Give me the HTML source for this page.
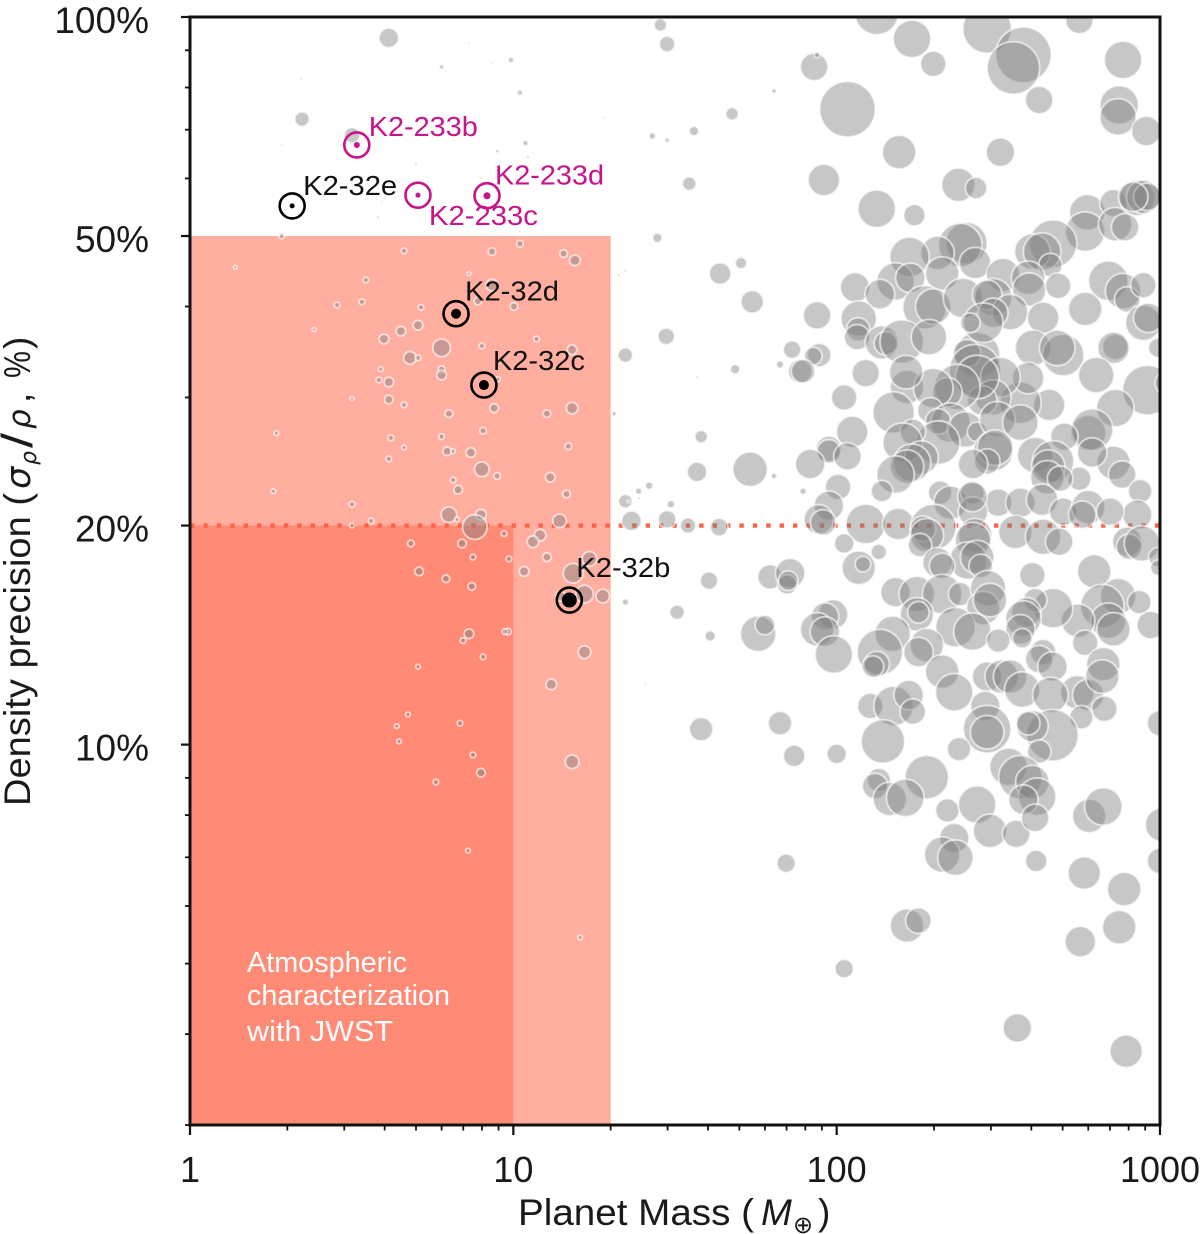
<!DOCTYPE html>
<html lang="en">
<head>
<meta charset="utf-8">
<title>Density precision vs planet mass</title>
<style>
html,body{margin:0;padding:0;background:#fff;}
svg{display:block;font-family:"Liberation Sans","DejaVu Sans",sans-serif;}
</style>
</head>
<body>
<svg id="chart" xmlns="http://www.w3.org/2000/svg" width="1200" height="1234" viewBox="0 0 1200 1234">
  <defs><clipPath id="plot-clip"><rect x="190" y="17" width="970" height="1108"/></clipPath></defs>
  <g id="regions"></g>
  <g id="bubbles" clip-path="url(#plot-clip)"></g>
  <g id="highlights"></g>
  <g id="axes"></g>
  <text x="247" y="972" font-size="29" fill="#fff" textLength="160" lengthAdjust="spacingAndGlyphs">Atmospheric</text>
  <text x="247" y="1005" font-size="29" fill="#fff" textLength="203" lengthAdjust="spacingAndGlyphs">characterization</text>
  <text x="247" y="1041" font-size="29" fill="#fff" textLength="146" lengthAdjust="spacingAndGlyphs">with JWST</text>
  <g fill="#1a1a1a" font-size="37">
    <text x="518" y="1225" textLength="236" lengthAdjust="spacingAndGlyphs">Planet Mass (</text>
    <text x="761" y="1225" font-style="italic">M</text>
    <text x="793" y="1233" font-size="24" font-family="'DejaVu Sans',sans-serif">⊕</text>
    <text x="818" y="1225">)</text>
  </g>
  <g transform="translate(30,806) rotate(-90)" fill="#1a1a1a" font-size="37">
    <text x="0" y="0" textLength="313" lengthAdjust="spacingAndGlyphs">Density precision (</text>
    <text x="317" y="0" font-style="italic" font-family="'DejaVu Sans',sans-serif" font-size="35">σ</text>
    <text x="341" y="6" font-style="italic" font-family="'DejaVu Sans',sans-serif" font-size="22">ρ</text>
    <text x="358" y="2" font-size="44" textLength="15" lengthAdjust="spacingAndGlyphs">/</text>
    <text x="377" y="0" font-style="italic" font-family="'DejaVu Sans',sans-serif" font-size="31">ρ</text>
    <text x="403" y="0">,</text>
    <text x="428" y="0" textLength="27" lengthAdjust="spacingAndGlyphs">%</text>
    <text x="457" y="0">)</text>
  </g>
</svg>
<script>
const planetMass = [
4.12,6.0,7.29,9.83,10.48,8.59,19.1,2.22,1.92,3.17,
10.9,8.91,11.1,5.0,7.94,3.92,3.5,3.81,10.48,1.92,
2.87,2.21,4.59,8.59,10.48,14.3,15.5,1.38,3.5,7.29,
8.59,2.85,3.4,5.18,7.77,10.04,2.42,5.07,4.49,3.98,
11.8,7.99,6.0,4.79,5.07,15.2,3.89,6.0,6.0,3.84,
4.12,8.97,3.17,4.12,4.59,6.32,8.72,12.7,15.2,20.5,
1.85,8.06,4.18,6.0,4.59,14.8,6.24,6.51,7.39,4.12,
7.99,8.91,13,6.51,6.75,14.6,1.81,3.17,6.32,3.63,
7.94,6.69,13.9,3.17,7.6,9.36,4.82,6.94,12.1,11.5,
7.5,12.7,9.69,17.2,5.11,10.8,15.3,6.19,7.44,16.6,
18.9,14,7.29,9.62,9.42,6.99,8.06,16.6,5.07,13.1,
4.72,4.36,6.84,4.43,7.5,15.2,7.94,5.76,7.24,16.1,
28.5,29.9,64,47.5,26.9,29.9,36.2,35,27.9,50.6,
43.6,21.2,22.2,54.8,29.7,22.2,37,48.5,66.8,72.8,
77.1,38.1,37,54,64,26.3,24.4,22.2,22.7,24.5,
30.7,29.9,23.2,34.7,43.3,40.3,62.2,71.8,70.3,70.8,
22.2,32.1,40.6,57.2,60,25.6,38.1,66.8,73.9,69.8,
133,171,199,292,378,352,423,563,769,748,
742,907,85.2,87,108,156,321,91.3,238,270,
133,174,
596,718,587,727,780,850,888,914,826,467,
403,432,458,252,241,205,268,168,212,327,
391,394,484,692,769,792,888,114,152,169,
136,187,199,246,305,292,344,305,435,587,
87,88.3,84.6,78.7,117,116.5,115.7,138,142,159,
193,272,253,268,284,259,405,502,481,727,
718,888,920,988,635,914,1050,727,600,617,
718,764,506,617,868,850,563,454,370,391,
321,305,282,272,236,220,165,199,164,123,
105.5,150,195,225,206,250,272,314,370,305,
309,292,264,206,172,160,183,171,165,152,
138,111.7,94.6,94.6,108,82.8,101,78.7,94.6,88,
90.8,123,155,411,467,451,448,491,316,370,
432,502,600,575,702,209,225,263,264,263,
105.5,135,117,120.6,199,185,190,181,268,264,
255,272,205,212,279,357,435,488,792,803,
880,988,988,403,626,152,177,212,241,294,
284,298,742,863,936,663,692,558,587,718,
467,411,386,378,370,375,177,179,233,263,
316,97.5,92,87,92,98,149,136,190,179,
133,129.5,212,231,292,324,344,375,288,435,
423,465,555,458,600,668,663,673,571,127,
150,167,172,139,292,292,239,465,403,391,
423,100,190,135,131.5,146,163,340,370,403,
417,378,220,272,604,668,298,359,411,1015,
231,212,233,414,583,775,1000,165,179,567,
748,105.5,362,786,1000
];
const densityPrecision = [
93.6,85.4,92.1,87.3,78.7,86.2,72.7,72.4,66.7,68.8,
67.1,65.4,64.2,62.8,60.1,55.7,56.2,53.1,50.8,50.0,
99.7,82.2,47.7,47.6,48.8,47.3,46.3,45.3,43.5,44.4,
42.8,40.2,40.6,39.9,40.7,40.0,37.2,37.7,37.0,36.1,
36.1,35.3,35.1,34.0,34.0,34.9,32.8,32.8,32.2,31.7,
31.5,31.8,29.9,29.8,29.3,28.5,29.0,28.5,29.0,28.5,
26.8,27.0,26.4,26.5,25.6,25.7,25.3,25.3,25.2,24.7,
23.9,23.4,23.3,23.1,22.4,22.1,22.3,21.4,20.7,20.3,
20.7,20.4,20.3,20.0,19.9,19.5,18.9,18.9,19.4,19.0,
18.1,18.1,18.0,18.0,17.3,17.3,17.2,16.9,16.5,16.1,
16.0,16.0,14.2,14.3,14.3,13.9,13.2,13.4,12.8,12.1,
11.0,10.6,10.7,10.1,9.68,9.47,9.15,8.88,7.15,5.43,
97.5,91.8,79.1,73.6,68.6,67.7,69.7,59.0,49.7,45.9,
44.4,44.2,44.8,40.6,36.4,34.3,32.0,32.8,33.3,34.9,
32.6,26.5,23.7,23.9,23.4,22.7,22.3,21.6,21.6,21.8,
21.4,20.4,20.3,20.0,19.9,16.8,17.0,17.2,16.6,16.8,
15.7,15.2,14.1,14.2,14.6,12.1,10.5,10.7,9.65,6.87,
101.3,93.3,86.2,96.3,88.7,85.1,76.9,99.1,87.3,75.7,
72.9,69.7,85.4,88.7,74.7,65.2,65.2,59.7,58.8,58.2,
54.5,53.4,
53.9,55.5,50.7,51.9,51.4,56.4,56.6,56.6,56.6,48.8,
47.6,47.6,45.6,48.9,48.6,47.4,45.9,46.8,44.4,44.2,
43.8,42.2,42.7,43.4,42.0,40.9,42.8,42.5,43.3,43.8,
41.6,39.9,40.0,41.1,41.2,41.5,39.3,39.2,38.6,39.7,
38.9,34.3,34.2,32.6,38.5,37.2,36.3,35.7,35.6,35.8,
36.3,34.3,34.5,32.7,38.0,38.0,35.1,34.3,35.1,35.2,
35.1,38.0,38.6,35.1,32.2,30.7,31.4,29.0,26.8,27.1,
24.4,23.5,26.5,25.2,22.3,20.7,23.2,29.3,29.5,31.9,
32.0,30.0,29.7,32.0,31.0,30.5,31.0,30.9,32.5,32.4,
30.0,28.6,28.8,27.7,27.8,27.1,26.9,28.0,27.7,25.3,
25.6,24.5,24.3,26.0,26.9,26.0,24.8,24.4,24.1,23.5,
22.3,26.9,25.5,25.3,24.9,24.3,22.6,22.3,21.3,20.4,
20.2,20.1,20.1,25.0,24.5,24.1,23.3,23.2,21.5,21.5,
21.7,20.9,21.2,20.7,20.9,22.2,21.5,22.2,20.9,21.9,
18.9,18.4,17.5,17.7,19.9,19.8,19.4,18.8,19.4,19.1,
17.9,18.1,17.8,17.6,17.6,19.6,19.3,19.0,19.0,18.7,
18.9,18.1,17.5,17.1,17.3,16.2,16.1,16.1,16.1,16.4,
15.4,15.8,16.0,15.7,14.6,15.5,14.8,14.8,13.8,14.4,
15.4,15.8,15.2,14.9,14.4,14.0,15.1,15.2,14.5,14.3,
13.9,15.1,15.0,14.4,14.3,13.3,14.2,13.4,13.7,13.4,
12.9,12.8,12.6,11.8,12.4,12.4,12.4,11.9,11.3,13.4,
13.1,12.8,11.8,11.7,11.7,12.9,12.4,11.2,10.9,11.3,
11.3,11.7,11.1,10.1,10.5,10.4,9.86,10.3,10.6,10.7,
9.78,9.71,9.02,8.94,8.77,8.42,8.45,9.32,9.02,8.88,
8.48,8.40,8.12,8.27,7.98,8.22,7.61,7.54,7.93,7.76,
7.44,7.06,6.99,6.92,6.66,6.33,6.92,5.64,5.73,5.36,
5.61,4.92,4.08,3.79,10.7
];
const planetRadius = [
5,1.25,.5,1.5,1.5,.35,.5,3.75,.5,4,
1.5,1,.75,.75,.5,.5,.5,.75,.35,1.5,
.5,.25,1.5,2,1.75,2,2.75,1,1.5,1,
3,1.5,1.5,1.5,2,2,1,2.5,2.5,2.5,
1.5,1.5,4.5,3.25,1.5,2.5,1.25,1.75,2.5,1.5,
2.5,1.25,1,2.25,1.5,2,2.25,2,3,1.25,
1.25,1.75,1.5,1.5,1.25,1.75,2.25,1.25,2.5,1.5,
3.75,1.75,2.5,1.5,2.25,2,1.25,1.5,4,1.5,
2.75,1.25,3.5,1.25,6.25,1.5,1.75,2.25,3,3,
1.5,2.25,1.5,3.75,2.25,2.5,5,2,2,4.5,
3.5,2.5,2.5,1.75,1.5,1.5,1.5,3.25,1.25,2.75,
1.25,1.25,1.5,1.25,1.5,3.5,2.25,1.5,1.25,1.25,
3.25,4,1.25,3.25,1.75,1.25,2.5,3.5,2.5,3,
5.5,.75,.75,5.75,4.25,3.75,.75,2.5,2,4.5,
6,3.25,5,8.75,1.5,2,1.75,3.5,.75,.75,
2,4.5,5,4,4.5,4.5,6.25,7.5,5,5,
1.75,3.75,2.75,9,5,.5,6,6,5.5,4.75,
11,9.5,6.5,12.25,14,13.25,7,7,9.5,9.75,
9.25,7.5,7,1.5,14,8.5,7.25,8,8.5,5.5,
9.5,5.5,
9,7,10,8.5,7,9,8.5,7,7.5,12,
9,9.5,6,10.5,11,8.5,8,10,8.5,8.5,
8.5,8.5,6.5,10,9,6.5,6.5,7.5,9.5,7.5,
7.5,11,9,10,9.5,7.5,9,7.5,8,8.5,
7,6,4.5,6,9,6,6.5,8.5,6,11,
9,11.5,7,13,10,5,9,10.5,9,6.5,
8,9,7.5,5,9,12.5,6,9.5,9,10.5,
8.5,7,7,7.5,6,7.5,6,8,10.5,8,
10,9,7.5,11,11.5,7.5,8.5,10,8.5,7,
6.5,10.5,6.5,10,6.5,9,5,9,9,10,
9,6.5,7.5,11,6.5,10,8.5,9.5,8.5,9.5,
5.5,8,6.5,6,7,7.5,6.5,1.75,7.5,7.5,
6.5,10,8,9,10.5,8.5,8.5,6.5,7,7.5,
8,7,8.5,7,7,6,8.5,6,7.5,7.5,
5,4,8.5,4,11.5,6.5,8.5,6,8.5,9,
9.5,8.5,7.5,6.5,6,8.5,9,7,7.5,6.5,
9,5,4,6.5,8.5,7.5,9,10,6,9,
8.5,8.5,9,6,7,11,9,8.5,6.5,8.5,
10,6,7.5,9,7.5,5,8.5,5.5,10,9.5,
6,7.5,7,8.5,7.5,9.5,9,11.5,8.5,7.5,
6.5,5.5,8.5,9.5,7.5,8.5,8.5,9,7.5,6.5,
7,7.5,8.5,9,8,8.5,8.5,6.5,6,6.5,
10,7.5,6.5,11,12,8.5,6,13,8,6,
6,5,11,6,6.5,8.5,9.5,9.5,11,8.5,
9.5,7.5,6,9.5,8.5,9.5,8.5,7,7,8.5,
7.5,9,9,5.5,8.25,8.5,6.5,8.5,6.5,7.75,
8.5,4.75,7.25,8.25,6.5
];

const highlightNames = ["K2-32e","K2-233b","K2-233c","K2-233d","K2-32d","K2-32c","K2-32b"];
const highlightMass = [2.07,3.28,5.07,8.29,6.65,8.11,14.9];
const highlightPrecision = [55.0,66.7,56.9,56.8,39.1,31.2,15.8];
const highlightRadius = [1.25,1.5,1.25,1.75,2.5,2.5,3.75];
const highlightGroup = ["K2-32","K2-233","K2-233","K2-233","K2-32","K2-32","K2-32"];

const xTickValues = [1,10,100,1000];
const xTickLabels = ["1","10","100","1000"];
const yTickValues = [100,50,20,10];
const yTickLabels = ["100%","50%","20%","10%"];
const yMinorTickValues = [90,80,70,60,40,30,9,8,7,6,5,4,3];
const xMinorMultipliers = [2,3,4,5,6,7,8,9];

const wideRegionMass = 20;
const wideRegionPrecision = 50;
const coreRegionMass = 10;
const coreRegionPrecision = 20;

const SVGNS = "http://www.w3.org/2000/svg";
function xScale(m){ return 190 + 323.33 * Math.log10(m); }
function yScale(p){ return 17 + 727.6 * Math.log10(100 / p); }
function rScale(R){ return Math.max(1, 2 * R - 0.2); }
function make(tag, attrs, parent){
  const node = document.createElementNS(SVGNS, tag);
  for (const k in attrs) node.setAttribute(k, attrs[k]);
  parent.appendChild(node);
  return node;
}

function drawRegions(){
  const g = document.getElementById("regions");
  const wide = make("rect", {x:xScale(1), y:yScale(wideRegionPrecision), width:xScale(wideRegionMass)-xScale(1), height:1125-yScale(wideRegionPrecision), fill:"#ffaea0"}, g);
  
  
  const core = make("rect", {x:xScale(1), y:yScale(coreRegionPrecision), width:xScale(coreRegionMass)-xScale(1), height:1125-yScale(coreRegionPrecision), fill:"#ff8a75"}, g);
  
  
  const line = make("line", {x1:xScale(1), x2:xScale(1000), y1:yScale(coreRegionPrecision), y2:yScale(coreRegionPrecision), stroke:"#ff6347", "stroke-width":4.4, "stroke-dasharray":"4.4 9"}, g);
  
  
}

function drawBubbles(){
  const g = document.getElementById("bubbles");
  const n = Math.min(planetMass.length, densityPrecision.length, planetRadius.length);
  for (let i = 0; i < n; i++){
    const c = make("circle", {cx:xScale(planetMass[i]), cy:yScale(densityPrecision[i]), r:rScale(planetRadius[i]), fill:"rgba(128,128,128,0.44)", stroke:"rgba(255,255,255,0.62)", "stroke-width":1.9}, g);
    
    
  }
}

function drawHighlights(){
  const labelOffsets = {
    "K2-32e":[11,-11,94], "K2-233b":[12,-9,109], "K2-233c":[11,30,109], "K2-233d":[8,-11,109],
    "K2-32d":[9,-13,94], "K2-32c":[9,-15,92], "K2-32b":[7,-23,94]
  };
  const g = document.getElementById("highlights");
  highlightNames.forEach(function(name, i){
    const color = highlightGroup[i] === "K2-233" ? "#c7148a" : "#000";
    const cx = xScale(highlightMass[i]), cy = yScale(highlightPrecision[i]);
    const ring = make("circle", {cx:cx, cy:cy, r:12.5, fill:"none", stroke:color, "stroke-width":2.6}, g);
    
    
    const dot = make("circle", {cx:cx, cy:cy, r:2*highlightRadius[i], fill:color}, g);
    
    
    const off = labelOffsets[name];
    const label = make("text", {x:cx+off[0], y:cy+off[1], "font-size":28, fill:color === "#000" ? "#111" : color, textLength:off[2], lengthAdjust:"spacingAndGlyphs"}, g);
    label.textContent = name;
    
    
  });
}

function drawAxes(){
  const g = document.getElementById("axes");
  const frame = make("rect", {x:190, y:17, width:970, height:1108, fill:"none", stroke:"#111", "stroke-width":3}, g);
  
  

  xTickValues.forEach(function(v, i){
    const t = make("line", {x1:xScale(v), x2:xScale(v), y1:1125, y2:1135, stroke:"#111", "stroke-width":2.2}, g);
    
    
    const lab = make("text", {x:xScale(v), y:1182, "font-size":36, "text-anchor":"middle", fill:"#1a1a1a"}, g);
    lab.textContent = xTickLabels[i];
    
    
    if (v < 1000){
      xMinorMultipliers.forEach(function(k){
        const mt = make("line", {x1:xScale(v*k), x2:xScale(v*k), y1:1125, y2:1130.5, stroke:"#111", "stroke-width":1.8}, g);
        
        
      });
    }
  });

  yTickValues.forEach(function(v, i){
    const t = make("line", {x1:181, x2:190, y1:yScale(v), y2:yScale(v), stroke:"#111", "stroke-width":2.2}, g);
    
    
    const lab = make("text", {x:149, y:yScale(v)+16, "font-size":37, "text-anchor":"end", fill:"#1a1a1a"}, g);
    lab.textContent = yTickLabels[i];
    
    
  });

  yMinorTickValues.forEach(function(v){
    const mt = make("line", {x1:185, x2:190, y1:Math.min(yScale(v),1125), y2:Math.min(yScale(v),1125), stroke:"#111", "stroke-width":1.8}, g);
    
    
  });
}

drawRegions();
drawBubbles();
drawHighlights();
drawAxes();
</script>
</body>
</html>
